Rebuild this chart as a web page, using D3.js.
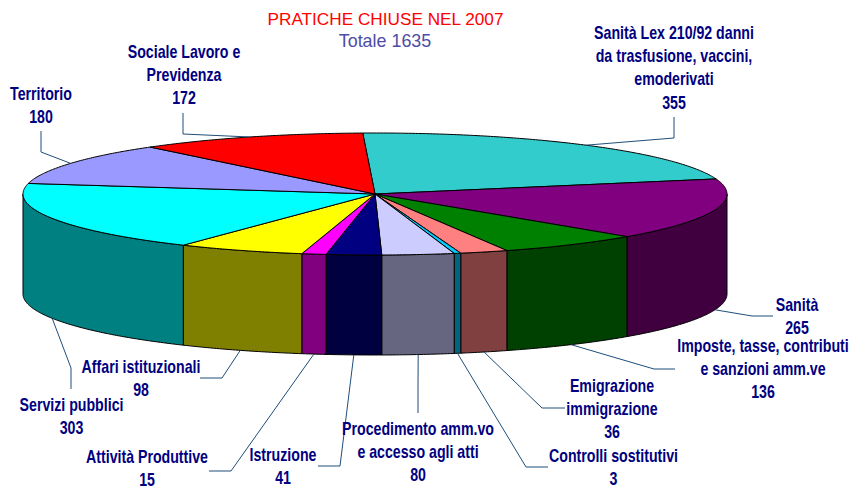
<!DOCTYPE html>
<html><head><meta charset="utf-8">
<script src="https://cdn.jsdelivr.net/npm/d3@7/dist/d3.min.js"></script>
<style>html,body{margin:0;padding:0;background:#fff}svg{display:block}</style>
</head><body><svg id="c" width="853" height="490"></svg>
<script>
const categories=["Sanità Lex 210/92 danni|da trasfusione, vaccini,|emoderivati","Sanità","Imposte, tasse, contributi|e sanzioni amm.ve","Emigrazione|immigrazione","Controlli sostitutivi","Procedimento amm.vo|e accesso agli atti","Istruzione","Attività Produttive","Affari istituzionali","Servizi pubblici","Territorio","Sociale Lavoro e|Previdenza"];
const values=[355,265,136,36,3,80,41,15,98,303,180,172];
// where the cumulative values land on the drawn disc (perspective of the 3-D pie), degrees
const projectedDegrees=[-2,75.7,134.3,158,165.9,167,178.9,188,192,213,280,320.3,358];
const topColors=["#33CCCC","#800080","#008000","#FF8080","#00CCFF","#CCCCFF","#000080","#FF00FF","#FFFF00","#00FFFF","#9999FF","#FF0000"];
const sideColors=["#1A6666","#400040","#004000","#804040","#006680","#666680","#000040","#800080","#808000","#008080","#4D4D80","#800000"];
const titleText="PRATICHE CHIUSE NEL 2007";
const subtitleText="Totale 1635";

const cx=375,cy=194,rx=352,ry=61,depth=100;
const layout=[
 {x:674,y:39,el:[674,138],end:[674,117]},
 {x:797,y:311,el:[752,316],end:[773,316]},
 {x:763,y:352,el:[654,369],end:[675,369]},
 {x:612,y:392,el:[542,408],end:[565,408]},
 {x:613.5,y:462,el:[526,467],end:[548,467]},
 {x:418,y:435,el:[418,383],end:[418,413]},
 {x:283,y:461,el:[340,466],end:[318,466]},
 {x:147,y:463,el:[231,471],end:[209,471]},
 {x:141,y:373,el:[222,378],end:[200,378]},
 {x:71.5,y:411,el:[71,368],end:[71,389]},
 {x:41,y:100,el:[41,152],end:[41,131]},
 {x:184,y:58,el:[183,134],end:[183,113]}
];
const svg=d3.select("#c");
const cum=[0,...d3.cumsum(values)];
const warp=d3.scaleLinear().domain(cum).range(projectedDegrees.map(d=>d*Math.PI/180));
const arcs=values.map((v,i)=>({startAngle:warp(cum[i]),endAngle:warp(cum[i+1])}));
const X=d3.scaleLinear().domain([-1,1]).range([cx-rx,cx+rx]);
const Y=d3.scaleLinear().domain([-1,1]).range([cy-ry,cy+ry]);
const pt=(a,dz=0)=>[X(Math.sin(a)),Y(-Math.cos(a))+dz];
const line=d3.line();
const sample=(a0,a1)=>{const n=Math.max(2,Math.ceil(Math.abs(a1-a0)/0.01));return d3.range(n+1).map(i=>a0+(a1-a0)*i/n);};

const front=[Math.PI/2,3*Math.PI/2];
const walls=svg.append("g");
arcs.forEach((d,i)=>{
  const a0=Math.max(d.startAngle,front[0]),a1=Math.min(d.endAngle,front[1]);
  if(a1<=a0)return;
  const up=sample(a0,a1).map(a=>pt(a));
  const dn=sample(a1,a0).map(a=>pt(a,depth));
  walls.append("path").attr("d",line(up.concat(dn))+"Z").attr("fill",sideColors[i])
    .attr("stroke","#000").attr("stroke-width",1).attr("stroke-linejoin","round");
});
const tops=svg.append("g");
arcs.forEach((d,i)=>{
  const rim=sample(d.startAngle,d.endAngle).map(a=>pt(a));
  tops.append("path").attr("d",line([[cx,cy],...rim])+"Z").attr("fill",topColors[i])
    .attr("stroke","#000").attr("stroke-width",1).attr("stroke-linejoin","round");
});
const leaders=svg.append("g");
arcs.forEach((d,i)=>{
  const m=(d.startAngle+d.endAngle)/2;
  const isFront=m>front[0]&&m<front[1];
  const p=pt(m,isFront?depth:0);
  leaders.append("path").attr("d",line([p,layout[i].el,layout[i].end])).attr("fill","none").attr("stroke","#1F4E79").attr("stroke-width",1);
});
const labels=svg.append("g").attr("fill","#000080").attr("font-family","Liberation Sans, Arial, sans-serif")
  .attr("font-weight","bold").attr("font-size",17.5).attr("text-anchor","middle");
categories.forEach((c,i)=>{
  const lines=c.split("|").concat(String(values[i]));
  const g=labels.append("g").attr("transform",`translate(${layout[i].x},${layout[i].y}) scale(0.81,1)`);
  lines.forEach((t,k)=>g.append("text").attr("y",k*23.2).text(t));
});
svg.append("text").attr("x",385.5).attr("y",25).attr("text-anchor","middle").attr("fill","#FF0000")
  .attr("font-family","Liberation Sans, Arial, sans-serif").attr("font-size",17.2).text(titleText);
svg.append("text").attr("x",385).attr("y",47).attr("text-anchor","middle").attr("fill","#4D4DA6")
  .attr("font-family","Liberation Sans, Arial, sans-serif").attr("font-size",17.9).text(subtitleText);
</script></body></html>
